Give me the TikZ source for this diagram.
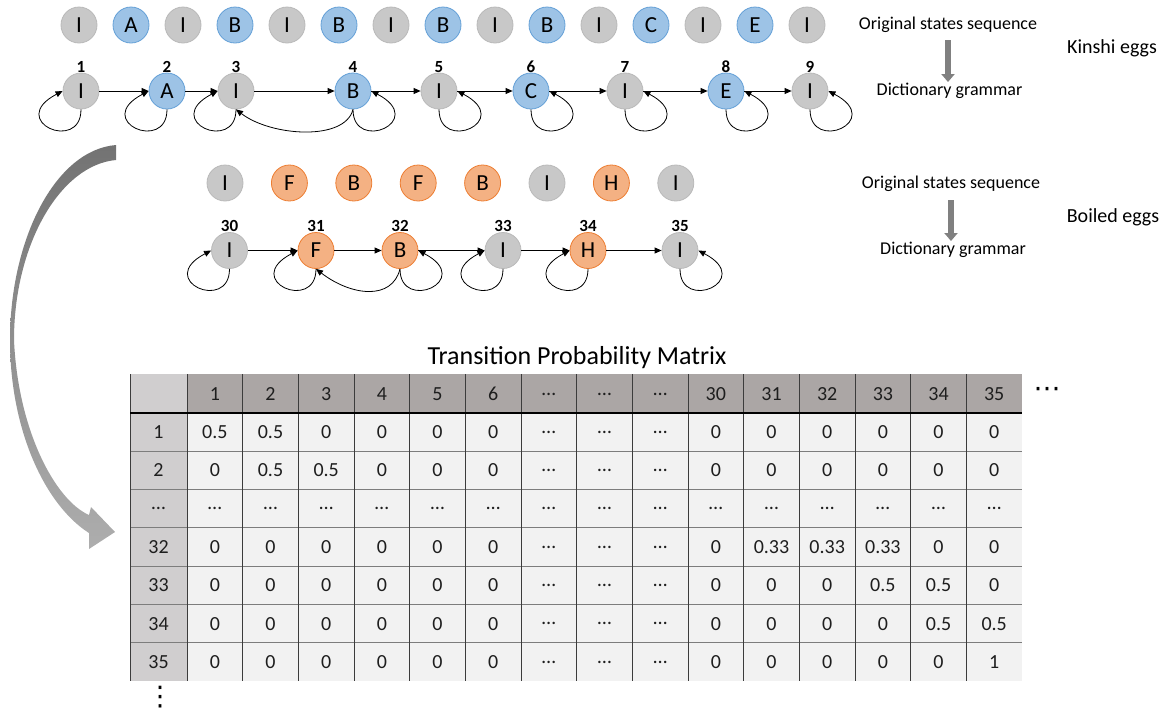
\documentclass[tikz,border=0pt]{standalone}
\usepackage{fontspec}
\setmainfont{Carlito}
\newfontfamily\symfont{DejaVu Sans}
\usetikzlibrary{arrows.meta}

\definecolor{stgray}{RGB}{200,200,200}
\definecolor{stgrayline}{RGB}{185,185,185}
\definecolor{stblue}{RGB}{157,195,230}
\definecolor{stblueline}{RGB}{100,160,215}
\definecolor{storange}{RGB}{244,177,131}
\definecolor{storangeline}{RGB}{237,125,49}
\definecolor{hdrfill}{RGB}{171,166,165}
\definecolor{sidefill}{RGB}{208,206,207}
\definecolor{cellfill}{RGB}{242,242,242}
\definecolor{hline}{RGB}{125,125,125}
\definecolor{vline}{RGB}{60,60,60}
\definecolor{blockgray}{RGB}{128,128,128}
\definecolor{txt}{RGB}{30,30,30}

\tikzset{
  state/.style={circle, minimum size=36pt, inner sep=0pt, line width=0.8pt,
    font=\fontsize{23}{23}\selectfont},
  gs/.style={state, fill=stgray, draw=stgrayline},
  bs/.style={state, fill=stblue, draw=stblueline},
  os/.style={state, fill=storange, draw=storangeline},
  idx/.style={font=\bfseries\fontsize{17}{17}\selectfont},
  edge/.style={line width=0.8pt, -{Triangle[length=7pt,width=6pt]}},
  note/.style={font=\fontsize{18}{18}\selectfont, inner sep=0pt},
  group/.style={font=\fontsize{20}{20}\selectfont, inner sep=0pt},
  blockarr/.style={line width=6pt, draw=blockgray,
    -{Triangle[length=8pt,width=13pt]}},
  cell/.style={font=\fontsize{20}{20}\selectfont, text=txt, inner sep=0pt},
}

% self loops: left side or right side of a state
\newcommand\loopleft[1]{\draw[edge] (#1.south) .. controls +(0,44) and +(-57,30) .. (#1.west);}
\newcommand\loopright[1]{\draw[edge] (#1.south) .. controls +(0,44) and +(57,30) .. (#1.east);}

% one row of the transition matrix: index, row label, 15 entries
\newcommand\tabrow[3]{%
  \node[cell] (r#1) at (158.5, {413+(#1-0.5)*38.3}) {#2};
  \foreach \v [count=\k] in {#3}
    \node[cell] (c#1-\k) at ({187+(\k-0.5)*55.67}, {413+(#1-0.5)*38.3}) {\v};
}

\begin{document}
\begin{tikzpicture}[x=1pt,y=-1pt]
\useasboundingbox (0,0) rectangle (1161,713);

% ---------- Kinshi eggs: original sequence ----------
\foreach \l/\s [count=\k] in {I/gs,A/bs,I/gs,B/bs,I/gs,B/bs,I/gs,B/bs,I/gs,B/bs,I/gs,C/bs,I/gs,E/bs,I/gs}
  \node[\s] (ks\k) at ({79+52*(\k-1)},25) {\l};

% ---------- Kinshi eggs: dictionary grammar ----------
\foreach \x/\l/\s [count=\k] in {81/I/gs,167/A/bs,236/I/gs,353/B/bs,439/I/gs,531/C/bs,625/I/gs,726/E/bs,810/I/gs}{
  \node[\s] (a\k) at (\x,91) {\l};
  \node[idx] (la\k) at (\x,67) {\k};
}
\foreach \i/\j in {1/2,2/3,3/4,4/5,5/6,6/7,7/8,8/9}
  \draw[edge] (a\i) -- (a\j);
\loopleft{a1}\loopleft{a2}\loopleft{a3}
\loopright{a4}\loopright{a5}\loopright{a6}\loopright{a7}\loopright{a8}\loopright{a9}
\draw[edge] (a4.south) .. controls +(-8,32) and +(35,27) .. (a3.south);

\node[note] (o1) at (948,25) {Original states sequence};
\node[note] (d1) at (949.5,91) {Dictionary grammar};
\node[group] (g1) at (1112,48) {Kinshi eggs};
\draw[blockarr, shorten <=7pt, shorten >=1pt] (o1.south) -- (o1.south |- d1.north);

% ---------- Boiled eggs: original sequence ----------
\foreach \l/\s [count=\k] in {I/gs,F/os,B/os,F/os,B/os,I/gs,H/os,I/gs}
  \node[\s] (bs\k) at ({225+64.4*(\k-1)},183) {\l};

% ---------- Boiled eggs: dictionary grammar ----------
\foreach \x/\n/\l/\s [count=\k] in {229.5/30/I/gs,316/31/F/os,400/32/B/os,503/33/I/gs,588/34/H/os,680/35/I/gs}{
  \node[\s] (b\k) at (\x,250.5) {\l};
  \node[idx] (lb\k) at (\x,226) {\n};
}
\foreach \i/\j in {1/2,2/3,3/4,4/5,5/6}
  \draw[edge] (b\i) -- (b\j);
\loopleft{b1}\loopleft{b2}\loopright{b3}\loopleft{b4}\loopleft{b5}\loopright{b6}
\draw[edge] (b3.south) .. controls +(-8,32) and +(35,27) .. (b2.south);

\node[note] (o2) at (951,184) {Original states sequence};
\node[note] (d2) at (953,250) {Dictionary grammar};
\node[group] (g2) at (1113,217) {Boiled eggs};
\draw[blockarr, shorten <=8pt, shorten >=1pt] (o2.south) -- (o2.south |- d2.north);

% ---------- curved arrow from the grammars down to the matrix ----------
\shade[top color=black!55, bottom color=black!32]
  (116,145) .. controls (55,150) and (10,240) .. (10,340)
  .. controls (10,430) and (45,505) .. (89,533)
  -- (89,549) -- (115,532) -- (91,507) -- (89,515)
  .. controls (55,500) and (18,430) .. (14,340)
  .. controls (14,245) and (60,165) .. (116,160) -- cycle;

% ---------- transition probability matrix ----------
\node[font=\fontsize{26}{26}\selectfont, inner sep=0pt] (title) at (577,358) {Transition Probability Matrix};

\fill[sidefill] (130,374) rectangle (187,681);
\fill[hdrfill] (187,374) rectangle (1022,413);
\fill[cellfill] (187,413) rectangle (1022,681);
\foreach \r in {1,...,6}
  \draw[hline, line width=1pt] (130,{413+\r*38.3}) -- (1022,{413+\r*38.3});
\draw[vline, line width=0.9pt] (130,374) -- (130,681);
\foreach \c in {0,...,14}
  \draw[vline, line width=0.9pt] ({187+\c*55.67},374) -- ({187+\c*55.67},681);
\draw[black, line width=2pt] (130,413) -- (1022,413);

\foreach \t [count=\k] in {1,2,3,4,5,6,\ldots,\ldots,\ldots,30,31,32,33,34,35}
  \node[cell] (h\k) at ({187+(\k-0.5)*55.67},394) {\t};

\tabrow{1}{1}{0.5,0.5,0,0,0,0,\ldots,\ldots,\ldots,0,0,0,0,0,0}
\tabrow{2}{2}{0,0.5,0.5,0,0,0,\ldots,\ldots,\ldots,0,0,0,0,0,0}
\tabrow{3}{\ldots}{\ldots,\ldots,\ldots,\ldots,\ldots,\ldots,\ldots,\ldots,\ldots,\ldots,\ldots,\ldots,\ldots,\ldots,\ldots}
\tabrow{4}{32}{0,0,0,0,0,0,\ldots,\ldots,\ldots,0,0.33,0.33,0.33,0,0}
\tabrow{5}{33}{0,0,0,0,0,0,\ldots,\ldots,\ldots,0,0,0,0.5,0.5,0}
\tabrow{6}{34}{0,0,0,0,0,0,\ldots,\ldots,\ldots,0,0,0,0,0.5,0.5}
\tabrow{7}{35}{0,0,0,0,0,0,\ldots,\ldots,\ldots,0,0,0,0,0,1}

\node[font=\symfont\fontsize{27}{27}\selectfont, inner sep=0pt] (hdots) at (1047,392) {⋯};
\node[font=\symfont\fontsize{27}{27}\selectfont, inner sep=0pt] (vdots) at (160,697) {⋮};
\end{tikzpicture}
\end{document}
